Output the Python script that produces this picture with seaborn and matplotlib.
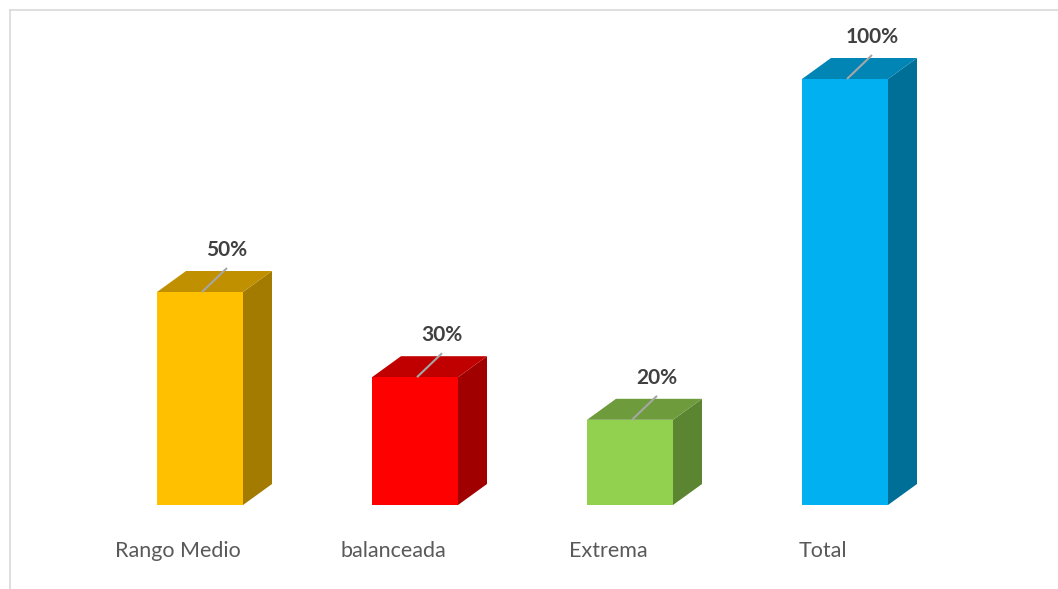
import seaborn as sns
import matplotlib.pyplot as plt
from matplotlib.patches import Polygon
from matplotlib.lines import Line2D
from matplotlib.transforms import ScaledTranslation

categorias = ['Rango Medio', 'balanceada', 'Extrema', 'Total']
porcentajes = [50, 30, 20, 100]
etiquetas = ['50%', '30%', '20%', '100%']
color_frente = ['#FFC000', '#FF0000', '#92D050', '#00B0F0']
color_arriba = ['#C09000', '#C00000', '#6E9C3C', '#0085B5']
color_lado = ['#A37B00', '#A00000', '#5B8531', '#006F98']

W, H = 1058, 589
fig = plt.figure(figsize=(W / 100, H / 100), dpi=100)
# axes placed in pixels: category 0 centre at x=200, spacing 215; y=0 at 505 from top, 100 -> 79
px_unit_x = 215
px_unit_y = 426 / 100
left = 200 - 0.5 * px_unit_x
bottom = H - 505
ax = fig.add_axes([left / W, bottom / H, 4 * px_unit_x / W, 115 * px_unit_y / H])

sns.barplot(x=categorias, y=porcentajes, hue=categorias, palette=color_frente,
            saturation=1, width=0.4, legend=False, ax=ax, zorder=3)
ax.set_xlim(-0.5, 3.5)
ax.set_ylim(0, 115)

# depth of the 3D boxes, in data units
dx = 29 / px_unit_x
dy = 21 / px_unit_y

for i, bar in enumerate(ax.patches):
    bar.set_edgecolor('none')
    x0 = bar.get_x()
    x1 = x0 + bar.get_width()
    h = bar.get_height()
    ax.add_patch(Polygon([(x1, 0), (x1, h), (x1 + dx, h + dy), (x1 + dx, dy)],
                         closed=True, facecolor=color_lado[i], edgecolor='none', zorder=2))
    ax.add_patch(Polygon([(x0, h), (x1, h), (x1 + dx, h + dy), (x0 + dx, h + dy)],
                         closed=True, facecolor=color_arriba[i], edgecolor='none', zorder=2))
    xc = x0 + bar.get_width() / 2
    # leader line and value label
    ax.plot([xc + 2 / px_unit_x, xc + 27 / px_unit_x], [h, h + 24 / px_unit_y],
            color='#A6A6A6', lw=1.5, zorder=4, solid_capstyle='butt')
    ax.text(xc + 27 / px_unit_x, h + 42 / px_unit_y, etiquetas[i], ha='center', va='center',
            fontsize=15, fontweight='bold', color='#404040', family='Lato', zorder=5)

for s in ax.spines.values():
    s.set_visible(False)
ax.set_yticks([])
ax.set_xlabel('')
ax.set_xticks(range(len(categorias)))
ax.set_xticklabels(categorias, fontsize=15.5, color='#595959', family='Lato')
ax.tick_params(axis='x', length=0, pad=26)
for lab in ax.get_xticklabels():
    lab.set_transform(lab.get_transform() + ScaledTranslation(-22 / 100, 0, fig.dpi_scale_trans))

# chart border (only top and left visible in the crop)
fig.add_artist(Line2D([9.5 / W, 9.5 / W], [0, 1 - 9.5 / H], transform=fig.transFigure,
                      color='#D9D9D9', lw=1.2))
fig.add_artist(Line2D([9.5 / W, 1], [1 - 9.5 / H, 1 - 9.5 / H], transform=fig.transFigure,
                      color='#D9D9D9', lw=1.2))

fig.savefig('out.png', dpi=100)
